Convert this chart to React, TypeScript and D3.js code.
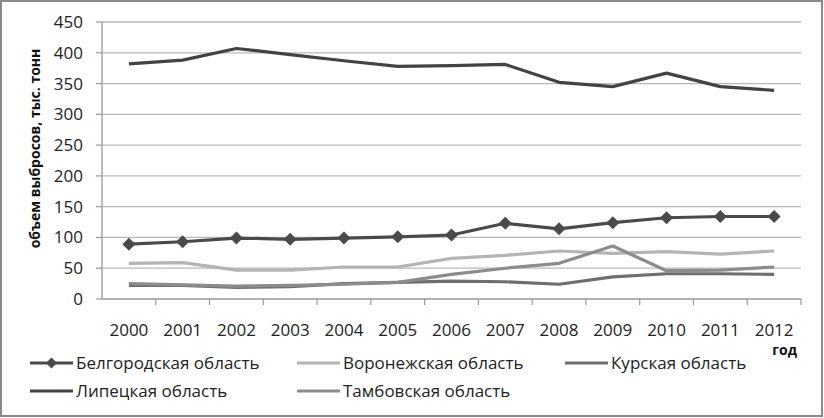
import React from "react";
import * as d3 from "d3";

const years = ["2000","2001","2002","2003","2004","2005","2006","2007","2008","2009","2010","2011","2012"];
const belgorod = [89, 93, 99, 97, 99, 101, 104, 123, 114, 124, 132, 134, 134];
const voronezh = [58, 59, 47, 47, 52, 52, 66, 71, 78, 74, 77, 73, 78];
const kursk = [22, 22, 19, 20, 25, 27, 29, 28, 24, 36, 41, 41, 40];
const lipetsk = [382, 388, 407, 397, 387, 378, 379, 381, 352, 345, 367, 345, 339];
const tambov = [25, 23, 21, 22, 24, 27, 40, 50, 58, 86, 46, 47, 52];
const yTicks = [0, 50, 100, 150, 200, 250, 300, 350, 400, 450];

const seriesNames = ["Белгородская область", "Воронежская область", "Курская область", "Липецкая область", "Тамбовская область"];
const seriesColors = ["#4a4a4a", "#b4b4b4", "#6e6e6e", "#434343", "#8c8c8c"];

export default function App() {
  const W = 824, H = 418;
  const left = 102, right = 801, top = 22, bottom = 299;
  const x = d3.scaleBand<string>().domain(years).range([left, right]);
  const y = d3.scaleLinear().domain([0, 450]).range([bottom, top]);
  const cx = (i: number) => (x(years[i]) as number) + x.bandwidth() / 2;
  const line = d3.line<number>().x((_, i) => cx(i)).y((d) => y(d));
  const data = [belgorod, voronezh, kursk, lipetsk, tambov];
  const drawOrder = [1, 2, 4, 3, 0];
  const font = "'Open Sans', 'Noto Sans', sans-serif";
  const legendPos = [
    { x: 30, y: 363 }, { x: 297, y: 363 }, { x: 565, y: 363 },
    { x: 30, y: 391 }, { x: 297, y: 391 },
  ];
  const diamond = (px: number, py: number, s: number) =>
    `M${px},${py - s}L${px + s},${py}L${px},${py + s}L${px - s},${py}Z`;
  return (
    <svg width={W} height={H} style={{ position: "absolute", left: 0, top: 0, background: "#fff" }} fontFamily={font}>
      <rect x={1} y={1} width={W - 3} height={H - 3} fill="#fff" stroke="#8a8a8a" strokeWidth={2} />
      {yTicks.map((t) => (
        <g key={t}>
          {t > 0 && <line x1={left} x2={right} y1={y(t)} y2={y(t)} stroke="#b8b8b8" strokeWidth={1.3} />}
          <line x1={left - 6} x2={left} y1={y(t)} y2={y(t)} stroke="#999" strokeWidth={1.2} />
          <text x={83} y={y(t)} dy="0.35em" textAnchor="end" fontSize={17} fill="#222">{t}</text>
        </g>
      ))}
      <line x1={left} x2={left} y1={top} y2={bottom} stroke="#999" strokeWidth={1.3} />
      <line x1={left} x2={right} y1={bottom} y2={bottom} stroke="#999" strokeWidth={1.3} />
      {years.map((yr) => (
        <line key={"t" + yr} x1={(x(yr) as number) + x.bandwidth()} x2={(x(yr) as number) + x.bandwidth()} y1={bottom} y2={bottom + 6} stroke="#999" strokeWidth={1.2} />
      ))}
      {years.map((yr, i) => (
        <text key={yr} x={cx(i)} y={330} dy="0.35em" textAnchor="middle" fontSize={17} fill="#222">{yr}</text>
      ))}
      {drawOrder.map((k) => (
        <path key={k} d={line(data[k]) || ""} fill="none" stroke={seriesColors[k]} strokeWidth={3.2} strokeLinejoin="round" />
      ))}
      {belgorod.map((v, i) => (
        <path key={"m" + i} d={diamond(cx(i), y(v), 6.5)} fill={seriesColors[0]} />
      ))}
      <text transform={`translate(40,${(top + bottom) / 2 - 12}) rotate(-90)`} textAnchor="middle" fontSize={14} fontWeight="bold" fill="#111">объем выбросов, тыс. тонн</text>
      <text x={797} y={350} dy="0.35em" textAnchor="end" fontSize={14} fontWeight="bold" fill="#111">год</text>
      {seriesNames.map((n, k) => (
        <g key={n}>
          <line x1={legendPos[k].x} x2={legendPos[k].x + 43} y1={legendPos[k].y} y2={legendPos[k].y} stroke={seriesColors[k]} strokeWidth={3.2} />
          {k === 0 && <path d={diamond(legendPos[k].x + 21.5, legendPos[k].y, 5.5)} fill={seriesColors[0]} />}
          <text x={legendPos[k].x + 46} y={legendPos[k].y} dy="0.35em" fontSize={17} fill="#222">{n}</text>
        </g>
      ))}
    </svg>
  );
}
